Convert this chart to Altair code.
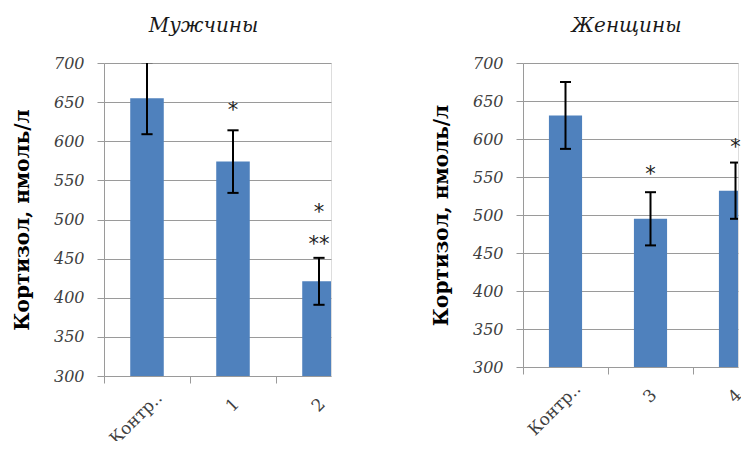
import altair as alt
import pandas as pd

# ---- data ----
men_cats = ["Контр..", "1", "2"]
men_vals = [655, 574, 421]
men_errs = [46, 40, 30]
men_star_cats = ["1", "2", "2"]
men_star_y = [644, 513, 472]
men_star_text = ["*", "*", "**"]

women_cats = ["Контр..", "3", "4"]
women_vals = [631, 495, 532]
women_errs = [44, 35, 37]
women_star_cats = ["3", "4"]
women_star_y = [558, 593]
women_star_text = ["*", "*"]

y_ticks = [300, 350, 400, 450, 500, 550, 600, 650, 700]
y_title = "Кортизол, нмоль/л"

BAR = "#4F81BD"
GRID = "#9a9a9a"
LABEL = "#404040"
HALF_BAR = 0.195   # bar half-width, in category steps
HALF_CAP = 0.065


def panel(title, cats, vals, errs, s_cats, s_y, s_text, width, height, step, title_dx):
    idx = list(range(len(cats)))
    df = pd.DataFrame({
        "i": idx,
        "cat": cats,
        "val": vals,
        "lo": [v - e for v, e in zip(vals, errs)],
        "hi": [v + e for v, e in zip(vals, errs)],
    })
    sdf = pd.DataFrame({"i": [cats.index(c) for c in s_cats], "y": s_y, "t": s_text})
    n_visible = width / step
    xs = alt.Scale(domain=[0, n_visible], nice=False, zero=False)
    ys = alt.Scale(domain=[300, 700], nice=False, zero=False)
    names = "[" + ",".join("'" + c + "'" for c in cats) + "]"
    tick_vals = sorted([k for k in idx] + [k + 0.5 for k in idx])
    xaxis = alt.Axis(
        title=None, values=tick_vals, labelAngle=-45,
        labelExpr=f"datum.value % 1 == 0 ? '' : {names}[floor(datum.value)]",
        labelFont="DejaVu Serif", labelFontSize=17, labelColor=LABEL,
        labelPadding={"condition": {"test": "datum.value < 1", "value": 12}, "value": 18},
        labelOverlap=False, labelAlign="right", labelBaseline="middle",
        labelBound=False, labelFlush=False,
        labelOffset={"condition": {"test": "datum.value < 1", "value": 12}, "value": 3},
        tickSize=7, tickColor=GRID,
        tickOpacity={"condition": {"test": "datum.value % 1 != 0", "value": 0}, "value": 1},
        domain=False, grid=False)
    yaxis = alt.Axis(title=y_title, values=y_ticks, titleFont="DejaVu Serif",
                     titleFontWeight="bold", titleFontSize=20, titleColor="#000000",
                     titlePadding=21, labelFont="DejaVu Serif", labelFontStyle="italic",
                     labelFontSize=16, labelColor=LABEL, labelPadding=13,
                     labelOverlap=False, labelFlush=False, tickSize=7, tickColor=GRID,
                     domainColor=GRID, gridColor=GRID, grid=True)
    base = alt.Chart(df).transform_calculate(
        xc="datum.i + 0.5",
        x0=f"datum.i + 0.5 - {HALF_BAR}",
        x1=f"datum.i + 0.5 + {HALF_BAR}",
        c0=f"datum.i + 0.5 - {HALF_CAP}",
        c1=f"datum.i + 0.5 + {HALF_CAP}",
    )
    bars = base.mark_bar(color=BAR, clip=True).encode(
        x=alt.X("x0:Q", scale=xs, axis=xaxis), x2="x1:Q",
        y=alt.Y("val:Q", scale=ys, axis=yaxis), y2=alt.datum(300))
    rule = base.mark_rule(color="#000000", strokeWidth=2, clip=True).encode(
        x=alt.X("xc:Q", scale=xs, axis=xaxis), y=alt.Y("lo:Q", scale=ys, axis=yaxis),
        y2="hi:Q")
    cap_lo = base.mark_rule(color="#000000", strokeWidth=2, clip=True).encode(
        x=alt.X("c0:Q", scale=xs, axis=xaxis), x2="c1:Q",
        y=alt.Y("lo:Q", scale=ys, axis=yaxis))
    cap_hi = base.mark_rule(color="#000000", strokeWidth=2, clip=True).encode(
        x=alt.X("c0:Q", scale=xs, axis=xaxis), x2="c1:Q",
        y=alt.Y("hi:Q", scale=ys, axis=yaxis))
    stars = alt.Chart(sdf).transform_calculate(xc="datum.i + 0.5").mark_text(
        font="DejaVu Sans", fontSize=21, color="#222222", baseline="middle", dy=4
    ).encode(x=alt.X("xc:Q", scale=xs, axis=xaxis),
             y=alt.Y("y:Q", scale=ys, axis=yaxis), text="t:N")
    return alt.layer(bars, rule, cap_lo, cap_hi, stars).properties(
        width=width, height=height,
        title=alt.TitleParams(title, font="DejaVu Serif", fontStyle="italic",
                              fontWeight="normal", fontSize=20, color="#1a1a1a",
                              anchor="middle", dx=title_dx, offset=19))


left = panel("Мужчины", men_cats, men_vals, men_errs, men_star_cats, men_star_y,
             men_star_text, 227, 313, 86, -14)
right = panel("Женщины", women_cats, women_vals, women_errs, women_star_cats,
              women_star_y, women_star_text, 215, 304, 85, -4)

chart = alt.hconcat(left, right, spacing=98).properties(
    autosize=alt.AutoSizeParams(type="none"),
    padding={"left": 96, "top": 55, "right": 637, "bottom": 378}
).configure_view(stroke=None).configure(background="white")

chart.save("out.html", embed_options={"renderer": "svg", "actions": False})
